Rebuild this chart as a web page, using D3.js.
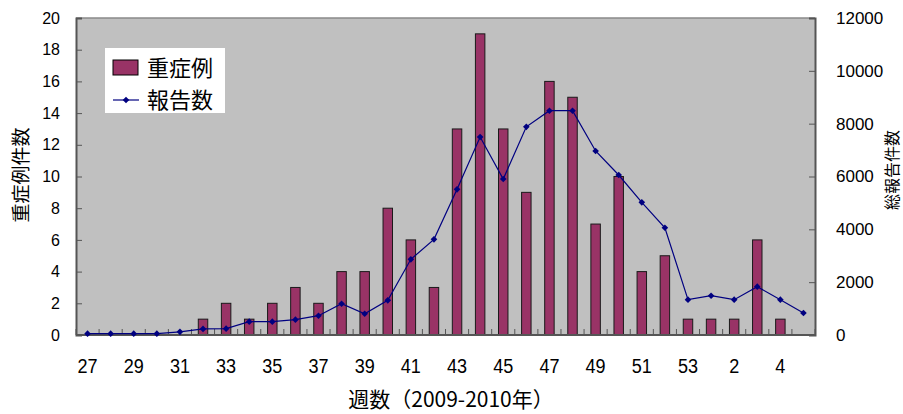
<!DOCTYPE html>
<html>
<head>
<meta charset="utf-8">
<script src="https://cdn.jsdelivr.net/npm/d3@7"></script>
<style>
  body { margin: 0; background: #fff; }
  svg text { font-family: "Noto Sans CJK JP", "Noto Sans", sans-serif; fill: #000; }
  svg text.num { font-family: "Liberation Sans", Arial, sans-serif; }
</style>
</head>
<body>
<svg id="chart" width="903" height="414"></svg>
<script>
// Week numbers (2009 weeks 27–53, then 2010 weeks 1–5)
const weeks = [27,28,29,30,31,32,33,34,35,36,37,38,39,40,41,42,43,44,45,46,47,48,49,50,51,52,53,1,2,3,4,5];
// Severe cases per week (left axis)
const severeCases = [0,0,0,0,0,1,2,1,2,3,2,4,4,8,6,3,13,19,13,9,16,15,7,10,4,5,1,1,1,6,1,0];
// Total reports per week (right axis)
const totalReports = [50,50,50,50,120,230,240,505,505,580,730,1185,806,1313,2865,3620,5515,7494,5904,7880,8490,8490,6965,6056,5022,4061,1337,1488,1337,1830,1337,833];
// Axis ticks
const leftTicks = [0,2,4,6,8,10,12,14,16,18,20];
const rightTicks = [0,2000,4000,6000,8000,10000,12000];
const xLabelWeeks = [27,29,31,33,35,37,39,41,43,45,47,49,51,53,2,4];

const svg = d3.select("#chart");
const plot = { left: 76, right: 815, top: 18, bottom: 335 };

const x = d3.scaleBand()
  .domain(d3.range(weeks.length))
  .range([plot.left, plot.right])
  .paddingInner(0).paddingOuter(0);
const yL = d3.scaleLinear().domain([0, 20]).range([plot.bottom, plot.top]);
const yR = d3.scaleLinear().domain([0, 12000]).range([plot.bottom, plot.top]);
const cx = i => x(i) + x.bandwidth() / 2;

// Plot background
svg.append("rect")
  .attr("x", plot.left).attr("y", plot.top)
  .attr("width", plot.right - plot.left).attr("height", plot.bottom - plot.top)
  .attr("fill", "#c0c0c0");
svg.append("line")
  .attr("x1", plot.left).attr("x2", plot.right)
  .attr("y1", plot.top).attr("y2", plot.top)
  .attr("stroke", "#8a8a8a").attr("stroke-width", 1.5);

// Bars (weeks with zero severe cases draw nothing)
const barW = x.bandwidth() * 0.41;
const barData = severeCases.map((v, i) => ({ v, i })).filter(d => d.v > 0);
svg.append("g").selectAll("rect")
  .data(barData)
  .join("rect")
  .attr("x", d => cx(d.i) - barW / 2)
  .attr("y", d => yL(d.v))
  .attr("width", barW)
  .attr("height", d => yL(0) - yL(d.v))
  .attr("fill", "#993366")
  .attr("stroke", "#1a1a1a")
  .attr("stroke-width", 1);

// Left axis
const leftAxis = d3.axisLeft(yL).tickValues(leftTicks).tickSize(-6).tickPadding(16).tickFormat(d3.format("d"));
const gL = svg.append("g").attr("transform", `translate(${plot.left},0)`).call(leftAxis);
gL.select(".domain").attr("stroke", "#555").attr("stroke-width", 2);
gL.selectAll(".tick line").attr("stroke", "#555");
gL.selectAll(".tick text").attr("class", "num").attr("font-size", 16);

// Right axis
const rightAxis = d3.axisRight(yR).tickValues(rightTicks).tickSize(-6).tickPadding(21).tickFormat(d3.format("d"));
const gR = svg.append("g").attr("transform", `translate(${plot.right},0)`).call(rightAxis);
gR.select(".domain").attr("stroke", "#555").attr("stroke-width", 2);
gR.selectAll(".tick line").attr("stroke", "#555");
gR.selectAll(".tick text").attr("class", "num").attr("font-size", 17);

// Bottom axis: tick marks at category boundaries
const gB = svg.append("g");
gB.selectAll("line.tk")
  .data(d3.range(weeks.length + 1))
  .join("line")
  .attr("x1", i => i < weeks.length ? x(i) : plot.right)
  .attr("x2", i => i < weeks.length ? x(i) : plot.right)
  .attr("y1", plot.bottom).attr("y2", plot.bottom - 6)
  .attr("stroke", "#555");
gB.append("line")
  .attr("x1", plot.left).attr("x2", plot.right)
  .attr("y1", plot.bottom).attr("y2", plot.bottom)
  .attr("stroke", "#555").attr("stroke-width", 2);
gB.selectAll("text")
  .data(weeks.map((w, i) => ({ w, i })).filter(d => xLabelWeeks.includes(d.w) && ((d.w !== 2 && d.w !== 4) || d.i > 26)))
  .join("text")
  .attr("class", "num")
  .attr("transform", d => `translate(${cx(d.i)},373) scale(0.86,1)`)
  .attr("text-anchor", "middle")
  .attr("font-size", 21)
  .text(d => d.w);

// Line series
const line = d3.line()
  .x((d, i) => cx(i))
  .y(d => yR(d));
svg.append("path")
  .datum(totalReports)
  .attr("d", line)
  .attr("fill", "none")
  .attr("stroke", "#000080")
  .attr("stroke-width", 1.2);
const marker = d3.symbol().type(d3.symbolSquare).size(22);
svg.append("g").selectAll("path")
  .data(totalReports)
  .join("path")
  .attr("transform", (d, i) => `translate(${cx(i)},${yR(d)}) rotate(45)`)
  .attr("d", marker)
  .attr("fill", "#000080");

// Axis titles
svg.append("text")
  .attr("transform", "translate(28,175) rotate(-90)")
  .attr("text-anchor", "middle")
  .attr("font-size", 19)
  .text("重症例件数");
svg.append("text")
  .attr("transform", "translate(898,170) rotate(-90)")
  .attr("text-anchor", "middle")
  .attr("font-size", 16)
  .text("総報告件数");
svg.append("text")
  .attr("x", 451).attr("y", 407)
  .attr("text-anchor", "middle")
  .attr("font-size", 21)
  .text("週数（2009-2010年）");

// Legend
const lg = svg.append("g");
lg.append("rect")
  .attr("x", 105).attr("y", 48).attr("width", 120).attr("height", 65)
  .attr("fill", "#fff");
lg.append("rect")
  .attr("x", 113).attr("y", 60).attr("width", 25).attr("height", 15)
  .attr("fill", "#993366").attr("stroke", "#000").attr("stroke-width", 1);
lg.append("text").attr("x", 147).attr("y", 76).attr("font-size", 22).text("重症例");
lg.append("line")
  .attr("x1", 113).attr("x2", 139).attr("y1", 100).attr("y2", 100)
  .attr("stroke", "#000080").attr("stroke-width", 1.2);
lg.append("path")
  .attr("transform", "translate(126,100) rotate(45)")
  .attr("d", marker)
  .attr("fill", "#000080");
lg.append("text").attr("x", 147).attr("y", 108).attr("font-size", 22).text("報告数");
</script>
</body>
</html>
